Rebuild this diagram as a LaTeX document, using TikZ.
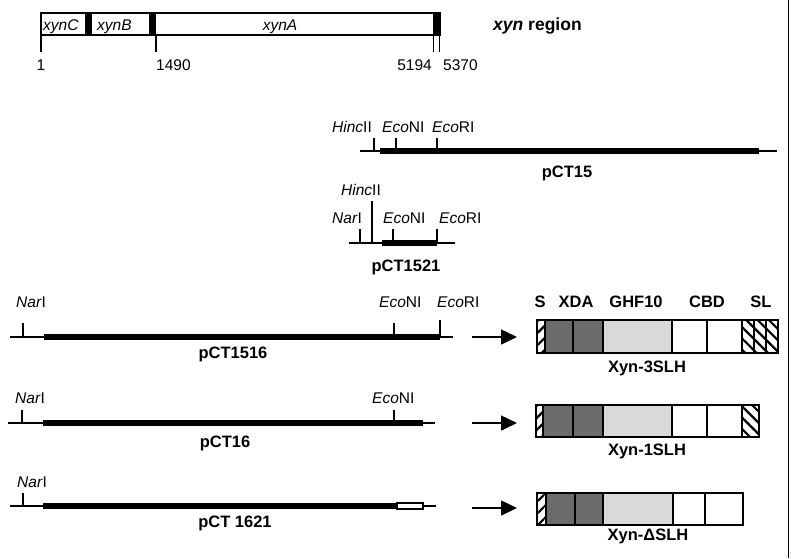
\documentclass[tikz,border=0pt]{standalone}
\usepackage{fontspec}
\setmainfont{Liberation Sans}
\usetikzlibrary{arrows.meta,patterns.meta}
\begin{document}
\begin{tikzpicture}[x=1pt,y=-1pt,
  dnaline/.style={line width=1.3pt},
  cloned/.style={line width=6pt},
  sitetick/.style={line width=1.3pt},
  site/.style={inner sep=0pt,anchor=base west,font=\fontsize{15.5}{18}\selectfont},
  num/.style={inner sep=0pt,font=\fontsize{15.5}{18}\selectfont},
  plabel/.style={inner sep=0pt,anchor=base,font=\fontsize{16.5}{19}\selectfont\bfseries},
  dom/.style={draw,line width=1.3pt},
  darkdom/.style={dom,fill=black!58},
  lightdom/.style={dom,fill=black!15},
  blankdom/.style={dom,fill=white},
  hatchS/.style={dom,pattern={Lines[angle=45,distance=8.5pt,line width=2.2pt]}},
  hatchL/.style={dom,pattern={Lines[angle=-45,distance=8pt,line width=2.2pt]}},
  bigarrow/.style={line width=1.5pt,-{Triangle[length=16pt,width=15pt]}}]
\useasboundingbox (0,0) rectangle (791,558);

% ---------- xyn region ----------
\draw[line width=1.5pt] (41,13) rectangle (440,35);
\fill (85,13) rectangle (92,35);
\fill (149,13) rectangle (156,35);
\fill (433,13) rectangle (440,35);
\draw[sitetick] (41,35) -- (41,52);
\draw[sitetick] (156,35) -- (156,52);
\draw[sitetick] (433.5,35) -- (433.5,52);
\draw[sitetick] (439.5,35) -- (439.5,52);
\node[site] (gC) at (43,30) {\itshape xynC};
\node[site] (gB) at (97,30) {\itshape xynB};
\node[num,anchor=base] (gA) at (280,30) {\itshape xynA};
\node[num,anchor=base] (n1) at (41,70) {1};
\node[num,anchor=base west] (n1490) at (156,70) {1490};
\node[num,anchor=base east] (n5194) at (432,70) {5194};
\node[num,anchor=base west] (n5370) at (443,70) {5370};
\node[plabel,anchor=base west,font=\fontsize{17.5}{20}\selectfont\bfseries] (reg) at (493,30) {\textit{xyn} region};

% ---------- pCT15 ----------
\draw[dnaline] (360,151) -- (777,151);
\draw[cloned] (380,151) -- (759,151);
\draw[sitetick] (374,151) -- (374,138);
\draw[sitetick] (396,151) -- (396,138);
\draw[sitetick] (437,151) -- (437,138);
\node[site] (h15) at (332,132) {\textit{Hinc}II};
\node[site] (en15) at (382,132) {\textit{Eco}NI};
\node[site] (er15) at (432,132) {\textit{Eco}RI};
\node[plabel] (p15) at (567,177) {pCT15};

% ---------- pCT1521 ----------
\draw[dnaline] (349,243) -- (455,243);
\draw[cloned] (382,243) -- (437,243);
\draw[sitetick] (360,243) -- (360,229);
\draw[sitetick] (372,243) -- (372,201);
\draw[sitetick] (393,243) -- (393,229);
\draw[sitetick] (437,243) -- (437,229);
\node[site] (h1521) at (341,195) {\textit{Hinc}II};
\node[site] (na1521) at (332,223) {\textit{Nar}I};
\node[site] (en1521) at (383,223) {\textit{Eco}NI};
\node[site] (er1521) at (439,223) {\textit{Eco}RI};
\node[plabel] (p1521) at (406,271) {pCT1521};

% ---------- pCT1516 ----------
\draw[dnaline] (10,337) -- (453,337);
\draw[cloned] (44,337) -- (440,337);
\draw[sitetick] (23,337) -- (23,323);
\draw[sitetick] (394,337) -- (394,323);
\draw[sitetick] (440,337) -- (440,320);
\node[site] (na1516) at (16,307) {\textit{Nar}I};
\node[site] (en1516) at (379,307) {\textit{Eco}NI};
\node[site] (er1516) at (437,307) {\textit{Eco}RI};
\node[plabel] (p1516) at (233,358) {pCT1516};

% ---------- pCT16 ----------
\draw[dnaline] (8,423) -- (435,423);
\draw[cloned] (43,423) -- (423,423);
\draw[sitetick] (22,423) -- (22,410);
\draw[sitetick] (394,423) -- (394,410);
\node[site] (na16) at (15,403) {\textit{Nar}I};
\node[site] (en16) at (372,403) {\textit{Eco}NI};
\node[plabel] (p16) at (225,447) {pCT16};

% ---------- pCT1621 ----------
\draw[dnaline] (10,506) -- (436,506);
\draw[cloned] (43,506) -- (397,506);
\draw[line width=1.2pt,fill=white] (397,503) rectangle (423,509);
\draw[sitetick] (23,506) -- (23,493);
\node[site] (na1621) at (17,487) {\textit{Nar}I};
\node[plabel] (p1621) at (235,527) {pCT 1621};

% ---------- arrows ----------
\coordinate (a1s) at (472,337); \coordinate (a1e) at (517,337);
\coordinate (a2s) at (472,423); \coordinate (a2e) at (517,423);
\coordinate (a3s) at (472,508); \coordinate (a3e) at (517,508);
\draw[bigarrow] (a1s) -- (a1e);
\draw[bigarrow] (a2s) -- (a2e);
\draw[bigarrow] (a3s) -- (a3e);

% ---------- domain headers ----------
\node[plabel] (hS) at (540,307) {S};
\node[plabel] (hXDA) at (576,307) {XDA};
\node[plabel] (hGHF) at (636,307) {GHF10};
\node[plabel] (hCBD) at (707,307) {CBD};
\node[plabel] (hSL) at (761,307) {SL};

% ---------- Xyn-3SLH ----------
\draw[hatchS] (537,320) rectangle (545,353);
\draw[darkdom] (545,320) rectangle (573,353);
\draw[darkdom] (573,320) rectangle (603,353);
\draw[lightdom] (603,320) rectangle (672,353);
\draw[blankdom] (672,320) rectangle (707,353);
\draw[blankdom] (707,320) rectangle (742,353);
\draw[hatchL] (742,320) rectangle (754,353);
\draw[hatchL] (754,320) rectangle (766,353);
\draw[hatchL] (766,320) rectangle (778,353);
\draw[line width=1.5pt] (537,320) rectangle (778,353);
\node[plabel] (x3) at (647,372) {Xyn-3SLH};

% ---------- Xyn-1SLH ----------
\draw[hatchS] (536,405) rectangle (543,437);
\draw[darkdom] (543,405) rectangle (573,437);
\draw[darkdom] (573,405) rectangle (603,437);
\draw[lightdom] (603,405) rectangle (672,437);
\draw[blankdom] (672,405) rectangle (707,437);
\draw[blankdom] (707,405) rectangle (742,437);
\draw[hatchL] (742,405) rectangle (759,437);
\draw[line width=1.5pt] (536,405) rectangle (759,437);
\node[plabel] (x1) at (647,455) {Xyn-1SLH};

% ---------- Xyn-dSLH ----------
\draw[hatchS] (537,493) rectangle (546,525);
\draw[darkdom] (546,493) rectangle (575,525);
\draw[darkdom] (575,493) rectangle (603,525);
\draw[lightdom] (603,493) rectangle (673,525);
\draw[blankdom] (673,493) rectangle (705,525);
\draw[blankdom] (705,493) rectangle (743,525);
\draw[line width=1.5pt] (537,493) rectangle (743,525);
\node[plabel] (xd) at (648,540) {Xyn-ΔSLH};

% ---------- right border ----------
\draw[line width=1pt] (788.5,0) -- (788.5,558);
\end{tikzpicture}
\end{document}
